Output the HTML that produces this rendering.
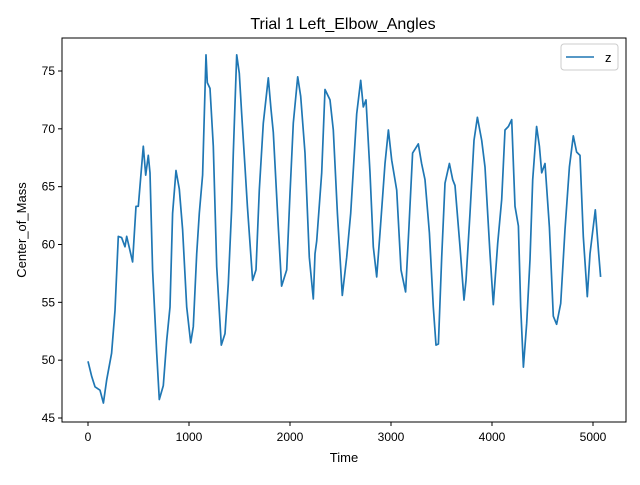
<!DOCTYPE html>
<html><head><meta charset="utf-8"><style>
body{margin:0;background:#fff;}
svg text{font-family:"Liberation Sans","DejaVu Sans",sans-serif;fill:#000;}
</style></head><body>
<svg id="chart" width="640" height="480" viewBox="0 0 640 480">
<rect width="640" height="480" fill="#fff"/>
<text x="343" y="29" font-size="16" text-anchor="middle">Trial 1 Left_Elbow_Angles</text>
<g id="xt"></g><g id="yt"></g>
<path id="line" fill="none" stroke="#1f77b4" stroke-width="1.7" stroke-linejoin="round"/>
<rect x="62" y="38" width="564" height="384" fill="none" stroke="#000" stroke-width="1"/>
<text x="344" y="462" font-size="13" text-anchor="middle">Time</text>
<text x="26" y="230" font-size="13" text-anchor="middle" transform="rotate(-90 26 230)">Center_of_Mass</text>
<g>
<rect x="561" y="44" width="57" height="26" rx="3" fill="#fff" stroke="#ccc"/>
<line x1="566" y1="57" x2="594" y2="57" stroke="#1f77b4" stroke-width="1.6"/>
<text x="605" y="62" font-size="13">z</text>
</g>
</svg>
<script>
const xTicks=[0,1000,2000,3000,4000,5000];
const yTicks=[45,50,55,60,65,70,75];
const times=[0,37,69,119,152,185,234,267,300,333,366,383,442,475,498,548,571,597,614,640,680,706,746,779,812,838,871,904,937,977,1017,1043,1076,1102,1135,1168,1181,1208,1241,1274,1320,1356,1389,1422,1439,1472,1498,1521,1554,1578,1630,1663,1696,1736,1785,1812,1835,1884,1917,1967,2000,2033,2076,2106,2149,2191,2231,2248,2264,2314,2347,2396,2429,2469,2518,2561,2601,2660,2700,2726,2752,2792,2825,2858,2891,2941,2974,3007,3056,3099,3145,3178,3214,3270,3303,3337,3380,3419,3446,3469,3502,3535,3578,3611,3634,3683,3723,3743,3782,3822,3855,3898,3931,3980,4013,4056,4096,4129,4162,4195,4228,4261,4284,4311,4344,4376,4403,4442,4469,4492,4525,4568,4607,4640,4680,4723,4766,4805,4838,4871,4904,4944,4970,5023,5056,5075];
const values=[49.9,48.6,47.7,47.4,46.3,48.3,50.6,54.3,60.7,60.6,59.8,60.7,58.5,63.3,63.3,68.5,66,67.7,66.2,57.8,50.6,46.6,47.8,51.7,54.6,62.7,66.4,64.8,61.3,54.6,51.5,52.9,59.2,62.7,66,76.4,74,73.5,68.5,58.1,51.3,52.3,56.6,63,67.9,76.4,74.8,71.4,66.7,63.3,56.9,57.8,64.7,70.5,74.4,71.7,69.7,61.5,56.4,57.8,64.4,70.5,74.5,72.8,67.9,58.9,55.3,59.2,60.3,66.2,73.4,72.5,69.9,62.7,55.6,58.9,62.7,71.3,74.2,71.9,72.5,66.2,59.8,57.2,61,67,69.9,67.3,64.7,57.8,55.9,61.6,67.9,68.7,67,65.6,61,54.6,51.3,51.4,58.9,65.3,67,65.6,65.1,59.8,55.2,56.9,62.7,69,71,69,66.7,59.2,54.8,60.1,63.9,69.9,70.2,70.8,63.3,61.6,54.6,49.4,53.2,58.7,65.6,70.2,68.5,66.2,67,61.5,53.8,53.1,54.9,61.3,66.7,69.4,68,67.7,60.7,55.5,59.2,63,59.2,57.2];
const X=t=>88+(t-0)*0.101;
const Y=v=>418-(v-45)*(347/30);
const ns="http://www.w3.org/2000/svg";
const xt=document.getElementById('xt'),yt=document.getElementById('yt');
xTicks.forEach(t=>{
 const l=document.createElementNS(ns,'line');
 l.setAttribute('x1',X(t));l.setAttribute('x2',X(t));l.setAttribute('y1',422);l.setAttribute('y2',426);l.setAttribute('stroke','#000');
 
 
 xt.appendChild(l);
 const s=document.createElementNS(ns,'text');
 s.setAttribute('x',X(t));s.setAttribute('y',441);s.setAttribute('font-size','12');s.setAttribute('text-anchor','middle');s.textContent=t;
 
 
 xt.appendChild(s);
});
yTicks.forEach(v=>{
 const l=document.createElementNS(ns,'line');
 l.setAttribute('x1',58);l.setAttribute('x2',62);l.setAttribute('y1',Y(v));l.setAttribute('y2',Y(v));l.setAttribute('stroke','#000');
 
 
 yt.appendChild(l);
 const s=document.createElementNS(ns,'text');
 s.setAttribute('x',55);s.setAttribute('y',Y(v)+4);s.setAttribute('font-size','12');s.setAttribute('text-anchor','end');s.textContent=v;
 
 
 yt.appendChild(s);
});
document.getElementById('line').setAttribute('d',times.map((t,i)=>(i?'L':'M')+X(t).toFixed(1)+','+Y(values[i]).toFixed(1)).join(''));
</script>
</body></html>
